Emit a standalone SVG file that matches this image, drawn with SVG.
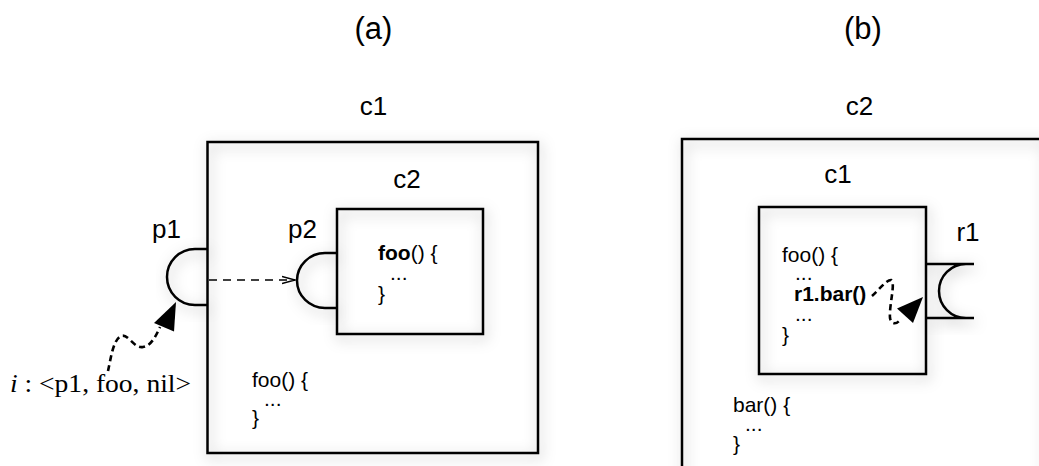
<svg xmlns="http://www.w3.org/2000/svg" width="1039" height="466" viewBox="0 0 1039 466">
<style>
  .box { fill: none; stroke: #000; stroke-width: 2.5; }
  .port { fill: none; stroke: #000; stroke-width: 2.5; }
  .lbl { font-family: "Liberation Sans", Arial, sans-serif; font-size: 26px; fill: #000; }
  .title { font-family: "Liberation Sans", Arial, sans-serif; font-size: 31px; fill: #000; }
  .code { font-family: "Liberation Sans", Arial, sans-serif; font-size: 21px; fill: #000; }
  .b { font-weight: bold; }
  .msg { font-family: "Liberation Serif", "Times New Roman", serif; font-size: 25px; fill: #000; }
  .wavy { fill: none; stroke: #000; stroke-width: 2.6; stroke-dasharray: 6 4; }
  .dash { fill: none; stroke: #000; stroke-width: 1.3; stroke-dasharray: 8 6; }
</style>
<defs>
  <filter id="sh" x="-30%" y="-30%" width="160%" height="160%">
    <feGaussianBlur in="SourceAlpha" stdDeviation="7" result="b"/>
    <feOffset in="b" dx="2" dy="4" result="o"/>
    <feFlood flood-color="#000" flood-opacity="0.3"/>
    <feComposite in2="o" operator="in" result="s"/>
    <feMerge><feMergeNode in="s"/><feMergeNode in="SourceGraphic"/></feMerge>
  </filter>
  <marker id="open" markerWidth="14" markerHeight="10" refX="13" refY="5" orient="auto" markerUnits="userSpaceOnUse">
    <path d="M0,1.5 L13,5 L0,8.5" fill="none" stroke="#000" stroke-width="1.3"/>
  </marker>
</defs>

<text class="title" x="373.5" y="39" text-anchor="middle">(a)</text>
<text class="title" x="863" y="39" text-anchor="middle">(b)</text>

<!-- (a) -->
<g id="a-c1">
  <rect class="box" x="207.5" y="142" width="330.5" height="311" filter="url(#sh)"/>
  <text class="lbl" x="373.5" y="115" text-anchor="middle">c1</text>
  <text class="code"><tspan x="252" y="387">foo() {</tspan><tspan x="264" y="406">...</tspan><tspan x="252" y="425">}</tspan></text>
</g>
<g id="a-p1">
  <path class="port" d="M208,249 H195 A28,28 0 0 0 195,305 H208" filter="url(#sh)"/>
  <text class="lbl" x="166.5" y="238" text-anchor="middle">p1</text>
</g>
<g id="a-c2">
  <rect class="box" x="337" y="209" width="146" height="125" filter="url(#sh)"/>
  <text class="lbl" x="407" y="188" text-anchor="middle">c2</text>
  <text class="code"><tspan x="378" y="260"><tspan class="b">foo</tspan>() {</tspan><tspan x="390" y="280">...</tspan><tspan x="378" y="301">}</tspan></text>
</g>
<g id="a-p2">
  <path class="port" d="M337,253 H325 A28,27.5 0 0 0 325,308 H337" filter="url(#sh)"/>
  <text class="lbl" x="302.5" y="238" text-anchor="middle">p2</text>
</g>
<g id="a-msg">
  <text class="msg" x="10" y="392" textLength="181" lengthAdjust="spacingAndGlyphs"><tspan font-style="italic">i</tspan> : &lt;p1, foo, nil&gt;</text>
</g>

<!-- (b) -->
<g id="b-c2">
  <rect class="box" x="682" y="139" width="362" height="345" filter="url(#sh)"/>
  <text class="lbl" x="859.5" y="115" text-anchor="middle">c2</text>
  <text class="code"><tspan x="733" y="412">bar() {</tspan><tspan x="745" y="431">...</tspan><tspan x="733" y="451">}</tspan></text>
</g>
<g id="b-c1">
  <rect class="box" x="759" y="207" width="167" height="167" filter="url(#sh)"/>
  <text class="lbl" x="838" y="183" text-anchor="middle">c1</text>
  <text class="code"><tspan x="782" y="262">foo() {</tspan><tspan x="795" y="280">...</tspan><tspan class="b" x="794" y="301">r1.bar()</tspan><tspan x="795" y="321">...</tspan><tspan x="782" y="342">}</tspan></text>
</g>
<g id="b-r1">
  <path class="port" d="M926,264 H974 M926,318 H974 M966,264 A27,27 0 0 0 966,318" filter="url(#sh)"/>
  <text class="lbl" x="968" y="241" text-anchor="middle">r1</text>
</g>

<g id="connectors">
  <path class="dash" d="M209,280 H295" marker-end="url(#open)"/>
  <path class="wavy" d="M108,371 C111,358 113,340 121,336 C128,333 134,349 143,347 C151,346 156,336 160,327"/>
  <polygon points="176,302 154,323 174,331.5" fill="#000"/>
  <path class="wavy" d="M872,296 C878,291 886,280 891,280 C896,282 889,305 890,318 C891,324 896,325 900,320"/>
  <polygon points="923,297 897,308.5 913,323" fill="#000"/>
</g>
</svg>
